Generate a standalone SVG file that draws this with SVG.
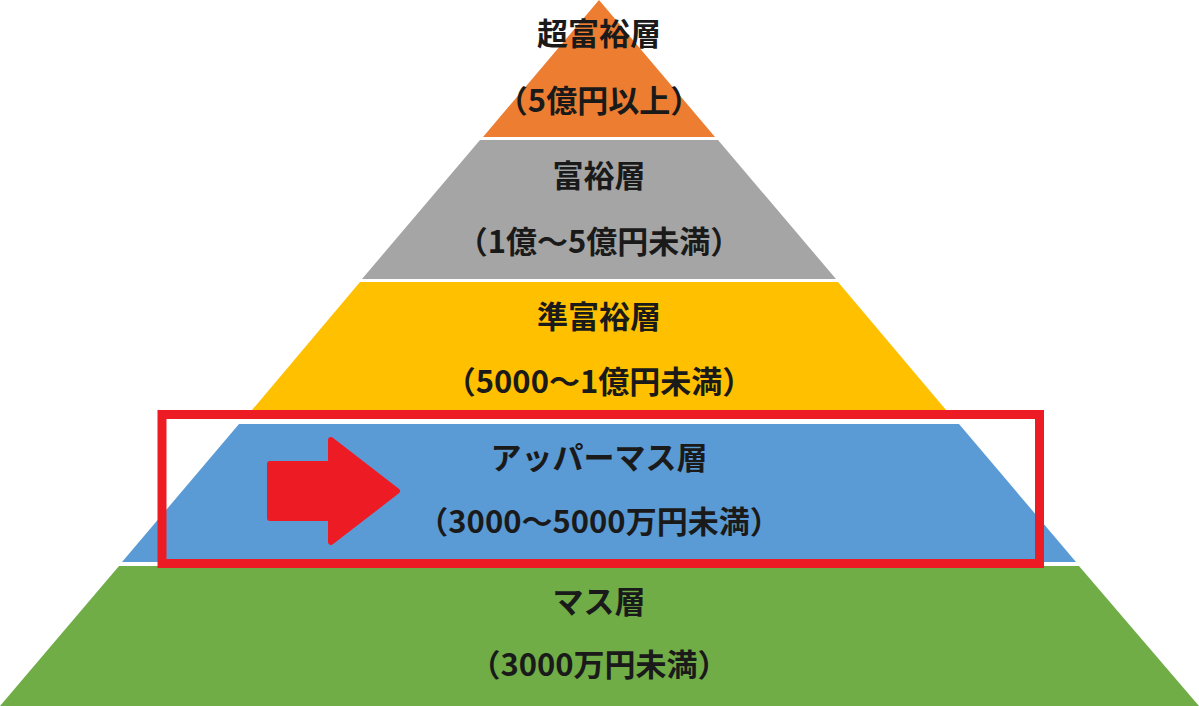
<svg xmlns="http://www.w3.org/2000/svg" width="1199" height="706" viewBox="0 0 1199 706">
<style>
text{font-family:"Noto Sans CJK JP","Noto Sans",sans-serif;font-weight:700;font-size:31px;fill:#1a1a1a;text-anchor:middle}
</style>
<rect width="1199" height="706" fill="#ffffff"/>
<g id="tier-ultra">
<polygon points="599,0 715,137 483,137" fill="#ED7D31"/>
<text x="599" y="45">超富裕層</text>
<text x="599" y="112">（5億円以上）</text>
</g>
<g id="tier-rich">
<polygon points="480,140 718,140 836,279 362,279" fill="#A5A5A5"/>
<text x="599" y="187">富裕層</text>
<text x="599" y="253">（1億～5億円未満）</text>
</g>
<g id="tier-semi">
<polygon points="360,282 838,282 946,410 252,410" fill="#FFC000"/>
<text x="599" y="328">準富裕層</text>
<text x="599" y="393">（5000～1億円未満）</text>
</g>
<g id="tier-upper">
<polygon points="239,424 959,424 1076,562 122,562" fill="#5B9BD5"/>
<text x="599" y="469">アッパーマス層</text>
<text x="599" y="533">（3000～5000万円未満）</text>
</g>
<g id="tier-mass">
<polygon points="119,566 1079,566 1199,706 0,706" fill="#70AD47"/>
<text x="599" y="613">マス層</text>
<text x="599" y="676">（3000万円未満）</text>
</g>
<g id="highlight">
<rect x="162" y="414.5" width="877.5" height="149" fill="none" stroke="#ED1C24" stroke-width="9"/>
<polygon points="270,464 331,464 331,440 397,491 331,542 331,518 270,518" fill="#ED1C24" stroke="#ED1C24" stroke-width="6" stroke-linejoin="round"/>
</g>
</svg>
